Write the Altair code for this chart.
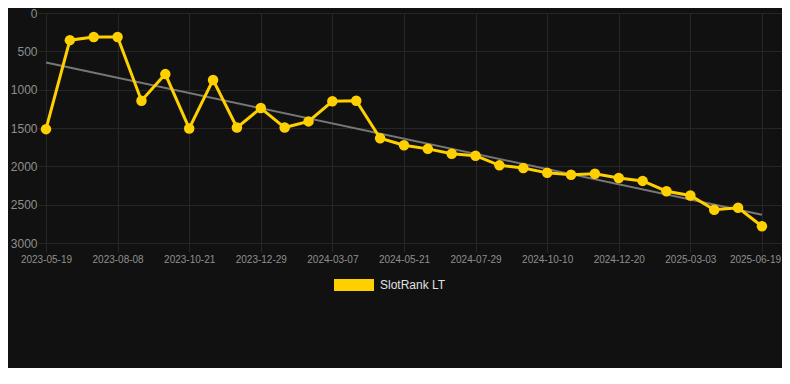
import json
import altair as alt
import pandas as pd

dates = [
    "2023-05-19", "2023-06-15", "2023-07-12", "2023-08-08", "2023-08-31", "2023-09-25",
    "2023-10-21", "2023-11-13", "2023-12-06", "2023-12-29", "2024-01-22", "2024-02-14",
    "2024-03-07", "2024-04-01", "2024-04-26", "2024-05-21", "2024-06-13", "2024-07-06",
    "2024-07-29", "2024-08-22", "2024-09-16", "2024-10-10", "2024-11-02", "2024-11-26",
    "2024-12-20", "2025-01-13", "2025-02-07", "2025-03-03", "2025-04-08", "2025-05-14",
    "2025-06-19",
]
values = [
    1515, 354, 313, 313, 1144, 797, 1506, 873, 1494, 1240,
    1494, 1414, 1152, 1144, 1633, 1724, 1772, 1835, 1861, 1987,
    2022, 2085, 2110, 2097, 2152, 2190, 2325, 2380, 2566, 2541,
    2781,
]
series_name = "SlotRank LT"
tick_index = list(range(0, 31, 3))
y_ticks = [0, 500, 1000, 1500, 2000, 2500, 3000]

YELLOW = "#FFD000"
GRID = "#262626"
LABEL = "#8f8f8f"
FONT = "Liberation Sans"

df = pd.DataFrame({
    "idx": list(range(len(values))),
    "date": dates,
    "value": values,
    "series": [series_name] * len(values),
})

label_expr = json.dumps(dates) + "[datum.value]"
last_idx = len(values) - 1

x_enc = alt.X(
    "idx:Q",
    scale=alt.Scale(domain=[0, 30.84], nice=False, zero=False),
    axis=alt.Axis(
        values=tick_index, labelExpr=label_expr, title=None, grid=True,
        gridColor=GRID, domain=False, ticks=True, tickColor=GRID, tickSize=9,
        labelPadding=2, labelFontSize=10, labelColor=LABEL, labelFont=FONT,
        labelAngle=0, labelOverlap=False, labelFlush=False,
        labelOffset={"condition": {"test": f"datum.value == {last_idx}", "value": -7},
                     "value": 0},
    ),
)
y_enc = alt.Y(
    "value:Q",
    scale=alt.Scale(domain=[0, 3000], reverse=True, nice=False),
    axis=alt.Axis(
        values=y_ticks, format="d", title=None, grid=True, gridColor=GRID,
        domain=False, ticks=True, tickColor=GRID, tickSize=8, labelPadding=1,
        labelFontSize=12, labelColor=LABEL, labelFont=FONT, labelFlush=False,
    ),
)

base = alt.Chart(df)

trend = base.transform_regression("idx", "value").mark_line(
    color="#777777", strokeWidth=2
).encode(x=x_enc, y=y_enc)

line = base.mark_line(color=YELLOW, strokeWidth=3).encode(x=x_enc, y=y_enc)

points = base.mark_point(filled=True, size=110, opacity=1).encode(
    x=x_enc,
    y=y_enc,
    color=alt.Color(
        "series:N",
        scale=alt.Scale(domain=[series_name], range=[YELLOW]),
        legend=alt.Legend(
            title=None, orient="none", legendX=288, legendY=252,
            symbolType="M-1,-0.3H1V0.3H-1Z", symbolSize=1600,
            symbolStrokeWidth=0, labelFontSize=12, labelColor="#e0e0e0",
            labelFont=FONT, labelOffset=6, padding=0,
        ),
    ),
)

chart = alt.layer(trend, line, points).properties(
    width=736,
    height=230,
    background="#111111",
    padding={"left": 38, "top": 5, "right": 0, "bottom": 125},
    autosize=alt.AutoSizeParams(type="none"),
).configure_view(strokeWidth=0)

chart.save("out.html", embed_options={"renderer": "svg", "actions": False})
